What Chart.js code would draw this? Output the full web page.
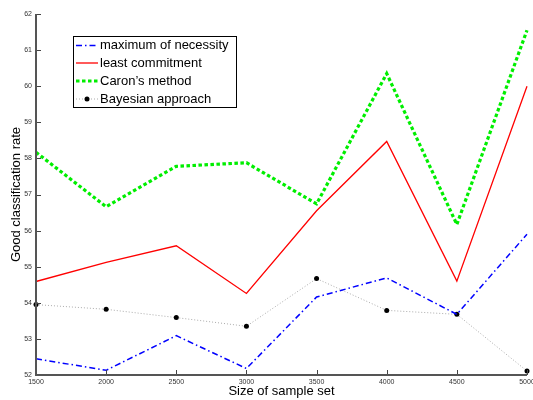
<!DOCTYPE html>
<html>
<head>
<meta charset="utf-8">
<script src="https://cdn.jsdelivr.net/npm/chart.js@4"></script>
<style>
  html, body { margin: 0; padding: 0; background: #fff; }
  #wrap { width: 533px; height: 400px; }
</style>
</head>
<body>
<div id="wrap"><canvas id="chart" width="533" height="400"></canvas></div>
<script>
const sampleSizes = [1500, 2000, 2500, 3000, 3500, 4000, 4500, 5000];
const maxNecessity = [52.45, 52.13, 53.09, 52.18, 54.16, 54.69, 53.68, 55.9];
const leastCommitment = [54.59, 55.12, 55.58, 54.26, 56.55, 58.47, 54.6, 60.0];
const caronMethod = [58.17, 56.66, 57.78, 57.88, 56.74, 60.35, 56.17, 61.55];
const bayesianApproach = [53.95, 53.82, 53.59, 53.35, 54.67, 53.79, 53.68, 52.11];
const yTicks = [52, 53, 54, 55, 56, 57, 58, 59, 60, 61, 62];

const FONT = "'Liberation Sans', Arial, sans-serif";

function toPoints(values) {
  return values.map((v, i) => ({ x: sampleSizes[i], y: v }));
}

// legend drawn inside the plot, matlab style
const boxLegend = {
  id: "boxLegend",
  afterDraw(chart) {
    const ctx = chart.ctx;
    const x0 = 73, y0 = 36, w = 163, h = 71;
    ctx.save();
    ctx.fillStyle = "#fff";
    ctx.fillRect(x0, y0, w, h);
    ctx.strokeStyle = "#000";
    ctx.lineWidth = 1;
    ctx.strokeRect(x0 + 0.5, y0 + 0.5, w, h);
    ctx.font = "13px " + FONT;
    ctx.textBaseline = "middle";
    const rows = [45.5, 63, 81, 99];
    chart.data.datasets.forEach((ds, i) => {
      const y = rows[i];
      ctx.strokeStyle = ds.borderColor;
      ctx.lineWidth = ds.borderWidth;
      ctx.setLineDash(ds.borderDash || []);
      ctx.beginPath();
      ctx.moveTo(76, y);
      ctx.lineTo(98, y);
      ctx.stroke();
      ctx.setLineDash([]);
      if (ds.pointRadius > 0) {
        ctx.fillStyle = ds.pointBackgroundColor;
        ctx.beginPath();
        ctx.arc(87, y, ds.pointRadius, 0, Math.PI * 2);
        ctx.fill();
      }
      ctx.fillStyle = "#000";
      ctx.fillText(ds.label, 100, y);
    });
    ctx.restore();
  }
};

// inward tick marks and the two axis lines
const inwardTicks = {
  id: "inwardTicks",
  afterDatasetsDraw(chart) {
    const ctx = chart.ctx;
    const a = chart.chartArea;
    const xs = chart.scales.x, ys = chart.scales.y;
    ctx.save();
    ctx.strokeStyle = "#444";
    ctx.lineWidth = 1;
    ctx.beginPath();
    yTicks.forEach(v => {
      const y = Math.round(ys.getPixelForValue(v)) + 0.5;
      ctx.moveTo(a.left, y);
      ctx.lineTo(a.left + 5, y);
    });
    sampleSizes.forEach(v => {
      const x = Math.round(xs.getPixelForValue(v)) + 0.5;
      ctx.moveTo(x, a.bottom);
      ctx.lineTo(x, a.bottom - 5);
    });
    ctx.stroke();
    ctx.strokeStyle = "#555";
    ctx.lineWidth = 2;
    ctx.beginPath();
    ctx.moveTo(a.left, a.top);
    ctx.lineTo(a.left, a.bottom);
    ctx.lineTo(a.right, a.bottom);
    ctx.stroke();
    ctx.restore();
  }
};

new Chart(document.getElementById("chart"), {
  type: "line",
  data: {
    datasets: [
      {
        label: "maximum of necessity",
        data: toPoints(maxNecessity),
        borderColor: "#0000ff",
        borderWidth: 1.5,
        borderDash: [6, 3, 1.5, 3],
        pointRadius: 0,
        tension: 0
      },
      {
        label: "least commitment",
        data: toPoints(leastCommitment),
        borderColor: "#ff0000",
        borderWidth: 1.3,
        pointRadius: 0,
        tension: 0
      },
      {
        label: "Caron\u2019s method",
        data: toPoints(caronMethod),
        borderColor: "#00ee00",
        borderWidth: 3.2,
        borderDash: [3.5, 2.5],
        pointRadius: 0,
        tension: 0
      },
      {
        label: "Bayesian approach",
        data: toPoints(bayesianApproach),
        borderColor: "#aaaaaa",
        borderWidth: 1,
        borderDash: [1, 2],
        pointRadius: 2.5,
        pointBackgroundColor: "#000",
        pointBorderWidth: 0,
        tension: 0
      }
    ]
  },
  options: {
    responsive: false,
    animation: false,
    clip: false,
    layout: { padding: { top: 14, right: 6, left: 0, bottom: 0 } },
    plugins: {
      legend: { display: false },
      tooltip: { enabled: false }
    },
    scales: {
      x: {
        type: "linear",
        min: 1500,
        max: 5000,
        afterBuildTicks(scale) {
          scale.ticks = sampleSizes.map(v => ({ value: v }));
        },
        afterFit(scale) {
          scale.height = 25;
          scale.paddingLeft = 0;
          scale.paddingRight = 0;
        },
        grid: { display: false, drawTicks: false },
        border: { display: false },
        ticks: {
          color: "#333",
          font: { size: 7, family: FONT },
          maxRotation: 0,
          padding: 3,
          autoSkip: false,
          callback: v => String(v)
        },
        title: {
          display: true,
          text: "Size of sample set",
          color: "#000",
          font: { size: 13, family: FONT },
          padding: { top: 0, bottom: 1 }
        }
      },
      y: {
        min: 52,
        max: 62,
        afterBuildTicks(scale) {
          scale.ticks = yTicks.map(v => ({ value: v }));
        },
        afterFit(scale) {
          scale.width = 36;
        },
        grid: { display: false, drawTicks: false },
        border: { display: false },
        ticks: {
          color: "#333",
          font: { size: 7, family: FONT },
          padding: 4
        },
        title: {
          display: true,
          text: "Good classification rate",
          color: "#000",
          font: { size: 13, family: FONT },
          padding: { top: 9, bottom: 0 }
        }
      }
    }
  },
  plugins: [inwardTicks, boxLegend]
});
</script>
</body>
</html>
